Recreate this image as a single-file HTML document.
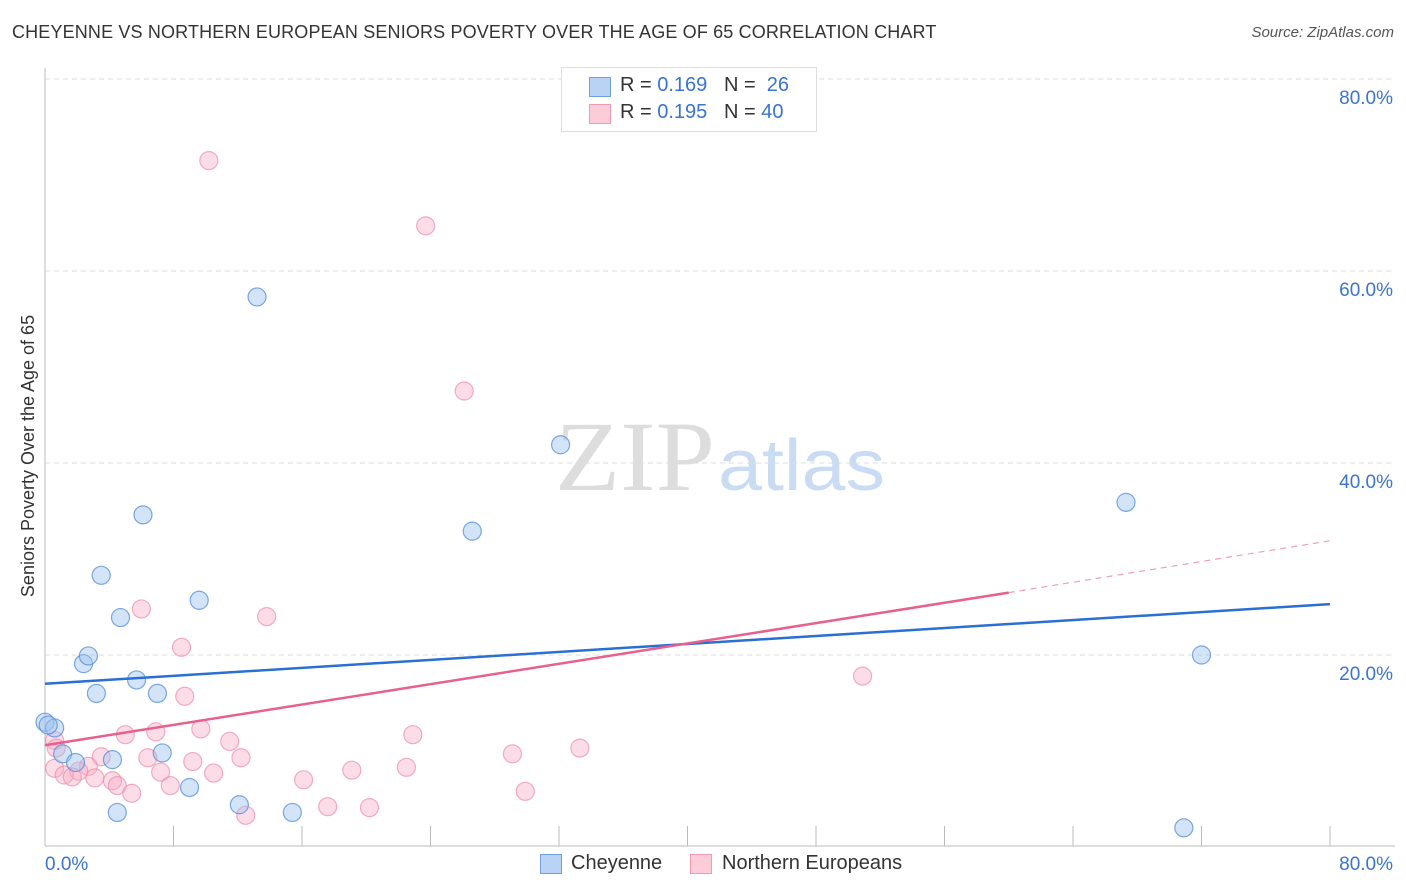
<!DOCTYPE html>
<html><head><meta charset="utf-8"><style>
body{margin:0;background:#fff;font-family:"Liberation Sans",sans-serif;}
#wrap{position:relative;width:1406px;height:892px;overflow:hidden;}
</style></head><body>
<div id="wrap">
<div style="position:absolute;left:12px;top:22px;font-size:18px;letter-spacing:0.15px;color:#333;">CHEYENNE VS NORTHERN EUROPEAN SENIORS POVERTY OVER THE AGE OF 65 CORRELATION CHART</div>
<div style="position:absolute;right:12px;top:24px;font-size:15px;color:#555;font-style:italic;">Source: ZipAtlas.com</div>
<svg id="chart" width="1406" height="892" style="position:absolute;left:0;top:0">
<text x="555" y="490" font-family="Liberation Serif,serif" font-size="100" textLength="160" lengthAdjust="spacingAndGlyphs" fill="#ddd">ZIP</text>
<text x="718" y="490" font-family="Liberation Sans,sans-serif" font-size="72" textLength="167" lengthAdjust="spacingAndGlyphs" fill="#c9dcf3">atlas</text>
</svg>
<div style="position:absolute;left:561px;top:67px;width:254px;height:63px;border:1px solid #ddd;background:#fff;font-size:20px;color:#333;">
 <div style="position:absolute;left:27px;top:9px;width:20px;height:18px;background:#b9d3f5;border:1px solid #6f9fdc;"></div>
 <div style="position:absolute;left:58px;top:6px;">R = <span style="color:#3a74d0">0.169</span>&nbsp;&nbsp;&nbsp;N = &nbsp;<span style="color:#3a74d0">26</span></div>
 <div style="position:absolute;left:27px;top:36px;width:20px;height:18px;background:#fcccd9;border:1px solid #ee9ab4;"></div>
 <div style="position:absolute;left:58px;top:33px;">R = <span style="color:#3a74d0">0.195</span>&nbsp;&nbsp;&nbsp;N = <span style="color:#3a74d0">40</span></div>
</div>
<div style="position:absolute;left:540px;top:852px;font-size:20px;color:#333;">
 <div style="position:absolute;left:0;top:2px;width:20px;height:18px;background:#b9d3f5;border:1px solid #6f9fdc;"></div>
 <div style="position:absolute;left:31px;top:0;white-space:nowrap;">Cheyenne</div>
 <div style="position:absolute;left:150px;top:2px;width:20px;height:18px;background:#fcccd9;border:1px solid #ee9ab4;"></div>
 <div style="position:absolute;left:182px;top:0;white-space:nowrap;">Northern Europeans</div>
</div>
</div>
<script>
const blueX=[0,0.6,0.2,1.1,1.9,2.4,2.7,3.2,3.5,4.2,4.5,4.7,5.7,6.1,7.0,7.3,9.0,9.6,12.1,13.2,15.4,26.6,32.1,67.3,72.0,70.9];
const blueY=[13.0,12.4,12.7,9.7,8.8,19.1,19.9,16.0,28.3,9.1,3.6,23.9,17.4,34.6,16.0,9.8,6.2,25.7,4.4,57.3,3.6,32.9,41.9,35.9,20.0,2.0];
const pinkX=[10.2,23.7,26.1,6.0,13.8,8.5,8.7,50.9,0.6,33.3,29.1,22.9,11.5,9.7,6.9,5.0,12.2,6.4,3.5,9.2,7.2,10.5,2.7,2.1,0.6,1.2,1.7,3.1,4.2,4.5,5.4,7.8,16.1,19.1,22.5,29.9,17.6,20.2,12.5,0.7];
const pinkY=[71.5,64.7,47.5,24.8,24.0,20.8,15.7,17.8,11.1,10.3,9.7,11.7,11.0,12.3,12.0,11.7,9.3,9.3,9.4,8.9,7.8,7.7,8.4,7.9,8.2,7.5,7.3,7.2,6.9,6.4,5.6,6.4,7.0,8.0,8.3,5.8,4.2,4.1,3.3,10.3];
const yTicks=[20,40,60,80];
const yTickLabels=["20.0%","40.0%","60.0%","80.0%"];
const xTicks=[0,8,16,24,32,40,48,56,64,72,80];
const blueTrend=[17.0,25.3];
const pinkTrend=[10.6,26.5,31.9];
const pinkSolidEnd=60;
const X=v=>45+v*16.0625, Y=v=>847-v*9.6;
const svg=document.getElementById('chart');const NS='http://www.w3.org/2000/svg';
function mk(t,a){const e=document.createElementNS(NS,t);for(const k in a)e.setAttribute(k,a[k]);svg.appendChild(e);return e;}
yTicks.forEach((t,i)=>{
 const g=mk('line',{x1:45,x2:1395,y1:Y(t),y2:Y(t),stroke:'#ddd','stroke-dasharray':'5,4'});
 
 
 const l=mk('text',{x:1393,y:Y(t)+25,'text-anchor':'end','font-size':19,fill:'#3a74d0','font-family':'Liberation Sans,sans-serif'});
 l.textContent=yTickLabels[i];
 
 
});
mk('line',{x1:45,x2:45,y1:68,y2:846,stroke:'#bbb'});
mk('line',{x1:45,x2:1395,y1:846,y2:846,stroke:'#bbb'});
xTicks.forEach(t=>{
 const k=mk('line',{x1:X(t),x2:X(t),y1:826,y2:846,stroke:'#bbb'});
 
 
});
[['0.0%',45,'start'],['80.0%',1393,'end']].forEach(a=>{
 const l=mk('text',{x:a[1],y:870,'text-anchor':a[2],'font-size':19,fill:'#3a74d0','font-family':'Liberation Sans,sans-serif'});
 l.textContent=a[0];
 
 
});
const yt=mk('text',{x:0,y:0,transform:'translate(34,456) rotate(-90)','text-anchor':'middle','font-size':18,fill:'#333','font-family':'Liberation Sans,sans-serif'});
yt.textContent='Seniors Poverty Over the Age of 65';


pinkX.forEach((x,i)=>{
 const c=mk('circle',{cx:X(x),cy:Y(pinkY[i]),r:9,fill:'rgba(248,170,195,0.4)',stroke:'rgba(236,140,170,0.7)','stroke-width':1.2});
 
 
});
blueX.forEach((x,i)=>{
 const c=mk('circle',{cx:X(x),cy:Y(blueY[i]),r:9,fill:'rgba(160,196,240,0.45)',stroke:'rgba(80,140,215,0.75)','stroke-width':1.2});
 
 
});
const bl=mk('line',{x1:X(0),x2:X(80),y1:Y(blueTrend[0]),y2:Y(blueTrend[1]),stroke:'#2a6fd4','stroke-width':2.5});


const pl=mk('line',{x1:X(0),x2:X(pinkSolidEnd),y1:Y(pinkTrend[0]),y2:Y(pinkTrend[1]),stroke:'#e8608e','stroke-width':2.5});


const pd=mk('line',{x1:X(pinkSolidEnd),x2:X(80),y1:Y(pinkTrend[1]),y2:Y(pinkTrend[2]),stroke:'#e8a0b8','stroke-width':1.2,'stroke-dasharray':'6,5'});


</script>
</body></html>
